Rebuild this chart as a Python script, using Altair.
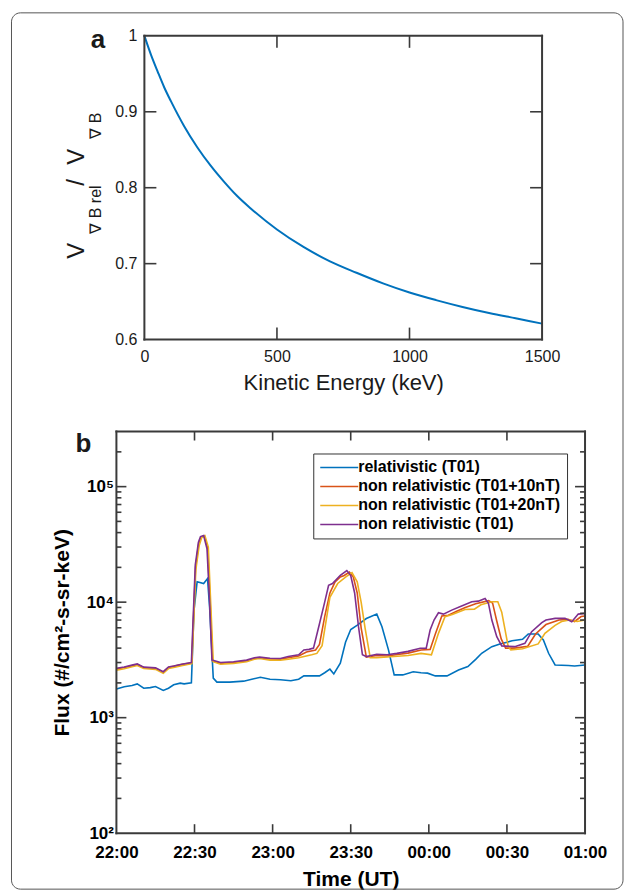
import altair as alt
import pandas as pd

# ---------------- panel a data ----------------
ke = [0, 25, 50, 75, 100, 150, 200, 250, 300, 350, 400, 500, 600, 700, 800, 900, 1000,
      1100, 1200, 1300, 1400, 1500]
ratio = [1.0, 0.975, 0.953, 0.932, 0.914, 0.881, 0.853, 0.829, 0.808, 0.789, 0.773, 0.745,
         0.722, 0.703, 0.688, 0.674, 0.662, 0.652, 0.643, 0.635, 0.628, 0.621]
ke_ticks = [0, 500, 1000, 1500]
ke_inner_ticks = [500, 1000]
ratio_ticks = [0.6, 0.7, 0.8, 0.9, 1.0]
ratio_inner_ticks = [0.7, 0.8, 0.9]
ratio_tick_labels = ["0.6", "0.7", "0.8", "0.9", "1"]

# ---------------- panel b data (minutes after 22:00 UT) ----------------
t_rel = [0, 3, 6, 8, 10.5, 13, 15, 18, 20, 22, 24.5, 26, 28.8, 29.8, 31, 33.5, 35, 35.8, 37.2, 38.6,
         43.5, 48.9, 52, 55.3, 59, 63, 67, 70, 72, 78, 80, 82, 83.5, 86, 88, 90, 92.4, 96, 100, 102,
         104.5, 106.7, 110, 114, 117, 119.5, 122.5, 127, 131.4, 135, 138, 140.3, 144.2, 147.3, 150,
         152, 156, 158.2, 162, 164, 166, 168.5, 173.6, 176, 180]
f_rel = [1770, 1850, 1900, 1960, 1800, 1820, 1860, 1720, 1800, 1925, 1990, 1960, 2000, 8500, 15000,
         14500, 16000, 9000, 2200, 2030, 2030, 2070, 2150, 2240, 2150, 2130, 2085, 2150, 2300, 2300,
         2450, 2630, 2390, 2960, 4500, 5800, 6300, 7220, 7880, 6120, 3860, 2345, 2345, 2500, 2450,
         2430, 2300, 2300, 2590, 2770, 3200, 3610, 4120, 4350, 4500, 4640, 4770, 5300, 5300, 4700,
         3610, 2860, 2830, 2800, 2860]

t_10 = [0, 3, 6, 8, 10.5, 15, 18, 20, 22, 25, 28.9, 30.4, 31.6, 32.5, 33.7, 35, 36, 36.9, 40, 45,
        50, 53, 55, 59, 63, 66, 70, 73, 76.5, 78, 80, 82, 84, 86, 87.5, 89.5, 91, 92.5, 94, 96,
        100, 104, 108, 112, 117, 120.5, 122.5, 125, 127.5, 130.5, 134, 138, 143, 144.5, 146,
        147.8, 149.5, 153, 158, 161, 165, 170, 173.5, 176, 178.5, 180]
f_10 = [2640, 2720, 2820, 2880, 2720, 2680, 2480, 2720, 2780, 2880, 2980, 20000, 32000, 36500, 37500,
        30000, 10000, 3100, 2950, 3000, 3100, 3250, 3300, 3220, 3200, 3300, 3420, 3700, 3850, 4300,
        7500, 12000, 15000, 16500, 17000, 18200, 16500, 12000, 6000, 3350, 3450, 3420, 3520, 3620,
        3850, 3900, 5300, 7600, 7700, 8300, 9000, 9700, 10300, 9800, 7000, 4800, 4000, 4000, 4150,
        5300, 6400, 7000, 7100, 6800, 7500, 7600]

t_20 = [0, 3, 6, 8, 10.5, 15, 18, 20, 22, 25, 29, 30.5, 31.8, 32.7, 34, 35.3, 36.2, 37.2, 40, 45,
        50, 53, 55, 59, 63, 66, 70, 75, 77, 79, 82, 85, 88, 90.5, 92.5, 94, 95.5, 97.5, 100, 104,
        108, 112, 117, 121, 123.7, 126.2, 129, 133.9, 137.5, 140, 144.2, 146.5, 148, 150.5, 151.5,
        156, 162, 164.6, 168.5, 171, 174, 177, 180]
f_20 = [2580, 2650, 2760, 2830, 2660, 2620, 2420, 2660, 2720, 2820, 2940, 19000, 31000, 36000, 37500,
        30000, 10000, 3050, 2900, 2950, 3050, 3200, 3250, 3150, 3150, 3200, 3300, 3500, 3600, 4200,
        11000, 14500, 16500, 18000, 15000, 10000, 6000, 3300, 3300, 3350, 3400, 3450, 3600, 3500,
        5370, 7480, 7800, 8650, 8700, 9500, 10070, 10070, 8200, 4120, 3860, 3950, 4350, 5370, 6300,
        6800, 7000, 6800, 7000]

t_nr = [0, 3, 6, 8, 10.5, 15, 18, 20, 22, 25, 28.8, 30.3, 31.5, 32.3, 33.5, 34.8, 35.8, 36.7, 40, 45,
        50, 53, 55, 59, 63, 66, 70, 72, 74, 75.7, 78, 80, 81.5, 83, 86, 88.5, 90, 91.5, 93, 94.5,
        96, 100, 104, 107.7, 112, 116.7, 119, 120.5, 122, 123.7, 125.6, 128.8, 132.6, 136.5, 139,
        141.6, 142.9, 144.2, 146.1, 148, 153, 156.9, 159.5, 163.4, 165, 168.5, 172.3, 174.9, 177.4, 180]
f_nr = [2680, 2750, 2850, 2920, 2740, 2700, 2500, 2750, 2800, 2900, 3000, 21000, 33000, 37000, 37800,
        29000, 10000, 3160, 3000, 3050, 3150, 3300, 3340, 3270, 3250, 3380, 3500, 3860, 3900, 4000,
        6500, 10000, 14000, 14500, 17100, 18800, 17000, 12000, 6100, 3500, 3380, 3540, 3500, 3600,
        3750, 3990, 4000, 5740, 7000, 8090, 7880, 8530, 9240, 10070, 10200, 10770, 9750, 7000, 5020,
        4180, 4120, 4400, 5550, 6640, 7000, 7240, 7240, 6770, 7880, 8000]

series_names = ["relativistic (T01)", "non relativistic (T01+10nT)",
                "non relativistic (T01+20nT)", "non relativistic (T01)"]
series_colors = ["#0072BD", "#D95319", "#EDB120", "#7E2F8E"]
series_t = [t_rel, t_10, t_20, t_nr]
series_f = [f_rel, f_10, f_20, f_nr]

time_ticks = [0, 30, 60, 90, 120, 150, 180]
time_inner_ticks = [30, 60, 90, 120, 150]
time_labels = ["22:00", "22:30", "23:00", "23:30", "00:00", "00:30", "01:00"]
flux_major = [100, 1000, 10000, 100000]
flux_major_labels = ["10²", "10³", "10⁴", "10⁵"]
flux_inner_major = [1000, 10000, 100000]
flux_minor = [200, 300, 400, 500, 600, 700, 800, 900,
              2000, 3000, 4000, 5000, 6000, 7000, 8000, 9000,
              20000, 30000, 40000, 50000, 60000, 70000, 80000, 90000, 200000]

FONT = "Liberation Sans"
FRAME = "#3a3a3a"
TXT = "#1a1a1a"
one = pd.DataFrame({"k": [0]})


def js_list(vals):
    return "[" + ",".join(repr(v) if not isinstance(v, str) else "'" + v + "'" for v in vals) + "]"


def txt(s, x, y, size, weight="normal", angle=0, align="left", baseline="alphabetic"):
    return alt.Chart(one).mark_text(text=s, font=FONT, fontSize=size, fontWeight=weight, angle=angle,
                                    align=align, baseline=baseline, color=TXT).encode(
        x=alt.value(x), y=alt.value(y))


# ================= panel a =================
W1, H1, L1 = 426, 304, 28
xs1 = alt.Scale(domain=[0, 1500], range=[L1, W1], nice=False, zero=False)
ys1 = alt.Scale(domain=[0.6, 1.0], nice=False, zero=False)

curve = alt.Chart(pd.DataFrame({"ke": ke, "ratio": ratio})).mark_line(
    color="#0072BD", strokeWidth=2, interpolate="monotone"
).encode(
    x=alt.X("ke:Q", scale=xs1, axis=alt.Axis(
        values=ke_ticks, format="d", ticks=False, domain=False, grid=False, labelFlush=False,
        labelFont=FONT, labelFontSize=16, labelColor=TXT, labelPadding=9,
        title="Kinetic Energy (keV)", titleFont=FONT, titleFontSize=22, titleFontWeight="normal",
        titleColor=TXT, titlePadding=8)),
    y=alt.Y("ratio:Q", scale=ys1, axis=None),
)

rule_kw = dict(color=FRAME, strokeWidth=2, strokeCap="square")
a_frame = [
    alt.Chart(one).mark_rule(**rule_kw).encode(x=alt.XDatum(0), y=alt.value(0), y2=alt.value(H1)),
    alt.Chart(one).mark_rule(**rule_kw).encode(x=alt.XDatum(1500), y=alt.value(0), y2=alt.value(H1)),
    alt.Chart(one).mark_rule(**rule_kw).encode(y=alt.YDatum(1.0, axis=None), x=alt.XDatum(0), x2=alt.X2Datum(1500)),
    alt.Chart(one).mark_rule(**rule_kw).encode(y=alt.YDatum(0.6, axis=None), x=alt.XDatum(0), x2=alt.X2Datum(1500)),
]
tick_kw = dict(color=FRAME, strokeWidth=1.6)
xt_df1 = pd.DataFrame({"v": ke_inner_ticks})
yt_df1 = pd.DataFrame({"v": ratio_inner_ticks})
a_ticks = [
    alt.Chart(xt_df1).mark_rule(**tick_kw).encode(x=alt.X("v:Q"), y=alt.value(H1 - 12), y2=alt.value(H1)),
    alt.Chart(xt_df1).mark_rule(**tick_kw).encode(x=alt.X("v:Q"), y=alt.value(0), y2=alt.value(12)),
    alt.Chart(yt_df1).mark_rule(**tick_kw).encode(y=alt.Y("v:Q", axis=None), x=alt.value(L1), x2=alt.value(L1 + 12)),
    alt.Chart(yt_df1).mark_rule(**tick_kw).encode(y=alt.Y("v:Q", axis=None), x=alt.value(W1 - 12), x2=alt.value(W1)),
]
a_ylabels = alt.Chart(pd.DataFrame({"v": ratio_ticks, "lab": ratio_tick_labels})).mark_text(
    align="right", baseline="middle", font=FONT, fontSize=16, color=TXT
).encode(y=alt.Y("v:Q", axis=None), x=alt.value(L1 - 7), text="lab:N")

a_title = [
    txt("V", -32, 223, 24, angle=270),
    txt("∇ B rel", -15, 198, 16, angle=270),
    txt("/", -32, 150, 24, angle=270),
    txt("V", -32, 129, 24, angle=270),
    txt("∇ B", -15, 103, 16, angle=270),
    txt("a", -18.5, 12, 26, weight="bold", align="center"),
]

top = alt.layer(curve, *a_frame, *a_ticks, a_ylabels, *a_title).properties(width=W1, height=H1)

# ================= panel b =================
W2, H2 = 469, 402
SPACING = 92
xs2 = alt.Scale(domain=[0, 180], nice=False, zero=False)
ys2 = alt.Scale(type="log", domain=[100, 300000], nice=False)

x_expr = js_list(time_labels) + "[indexof(" + js_list(time_ticks) + ", datum.value)]"
y_expr = js_list(flux_major_labels) + "[indexof(" + js_list(flux_major) + ", datum.value)]"

x_axis2 = alt.Axis(values=time_ticks, labelExpr=x_expr, ticks=False, domain=False, grid=False,
                   labelFlush=False, labelOverlap=False, labelFont=FONT, labelFontSize=17,
                   labelFontWeight="bold", labelColor="#000", labelPadding=11,
                   title="Time (UT)", titleFont=FONT, titleFontSize=21, titleFontWeight="bold",
                   titleColor="#000", titlePadding=8)
y_axis2 = alt.Axis(values=flux_major, labelExpr=y_expr, ticks=False, domain=False, grid=False,
                   labelFlush=False, labelOverlap=False, labelFont=FONT, labelFontSize=17,
                   labelFontWeight="bold", labelColor="#000", labelPadding=3,
                   title="Flux (#/cm²-s-sr-keV)", titleFont=FONT, titleFontSize=21,
                   titleFontWeight="bold", titleColor="#000", titlePadding=14)
legend2 = alt.Legend(orient="none", legendX=197, legendY=H1 + SPACING + 22, title=None,
                     direction="vertical",
                     symbolType="M-3.8,0H3.8", symbolSize=100, symbolStrokeWidth=1.5,
                     symbolOffset=12, labelOffset=11, labelFont=FONT, labelFontSize=16,
                     labelFontWeight="bold", labelColor="#000", labelLimit=400,
                     strokeColor="#333", fillColor="#ffffff", padding=6, rowPadding=3)
color2 = alt.Color("series:N", scale=alt.Scale(domain=series_names, range=series_colors), legend=legend2)

b_lines = []
for name, ts, fs in zip(series_names, series_t, series_f):
    df = pd.DataFrame({"t": ts, "flux": fs, "series": name})
    b_lines.append(alt.Chart(df).mark_line(strokeWidth=1.6).encode(
        x=alt.X("t:Q", scale=xs2, axis=x_axis2),
        y=alt.Y("flux:Q", scale=ys2, axis=y_axis2),
        color=color2,
    ))

b_frame = [
    alt.Chart(one).mark_rule(**rule_kw).encode(x=alt.XDatum(0), y=alt.value(0), y2=alt.value(H2)),
    alt.Chart(one).mark_rule(**rule_kw).encode(x=alt.XDatum(180), y=alt.value(0), y2=alt.value(H2)),
    alt.Chart(one).mark_rule(**rule_kw).encode(y=alt.YDatum(300000), x=alt.XDatum(0), x2=alt.X2Datum(180)),
    alt.Chart(one).mark_rule(**rule_kw).encode(y=alt.YDatum(100), x=alt.XDatum(0), x2=alt.X2Datum(180)),
]
xt_df2 = pd.DataFrame({"v": time_inner_ticks})
ymaj_df = pd.DataFrame({"v": flux_inner_major})
ymin_df = pd.DataFrame({"v": flux_minor})
b_ticks = [
    alt.Chart(xt_df2).mark_rule(**tick_kw).encode(x=alt.X("v:Q"), y=alt.value(H2 - 9), y2=alt.value(H2)),
    alt.Chart(xt_df2).mark_rule(**tick_kw).encode(x=alt.X("v:Q"), y=alt.value(0), y2=alt.value(9)),
    alt.Chart(ymaj_df).mark_rule(**tick_kw).encode(y=alt.Y("v:Q"), x=alt.value(0), x2=alt.value(10)),
    alt.Chart(ymaj_df).mark_rule(**tick_kw).encode(y=alt.Y("v:Q"), x=alt.value(W2 - 10), x2=alt.value(W2)),
    alt.Chart(ymin_df).mark_rule(**tick_kw).encode(y=alt.Y("v:Q"), x=alt.value(0), x2=alt.value(5)),
    alt.Chart(ymin_df).mark_rule(**tick_kw).encode(y=alt.Y("v:Q"), x=alt.value(W2 - 5), x2=alt.value(W2)),
]
border = alt.Chart(one).mark_rect(filled=False, color="#555555", strokeWidth=1, cornerRadius=9).encode(
    x=alt.value(-105), x2=alt.value(507), y=alt.value(-419), y2=alt.value(458))
b_label = txt("b", -33, 21, 26, weight="bold", align="center")

bottom = alt.layer(*b_lines, *b_frame, *b_ticks, border, b_label).properties(width=W2, height=H2)

chart = alt.vconcat(top, bottom, spacing=SPACING, bounds="flush").properties(
    padding={"left": 2.5, "top": 3.5, "right": 0, "bottom": 0}
).configure(font=FONT).configure_view(strokeWidth=0)

chart.save("out.html", embed_options={"renderer": "svg", "actions": False})
